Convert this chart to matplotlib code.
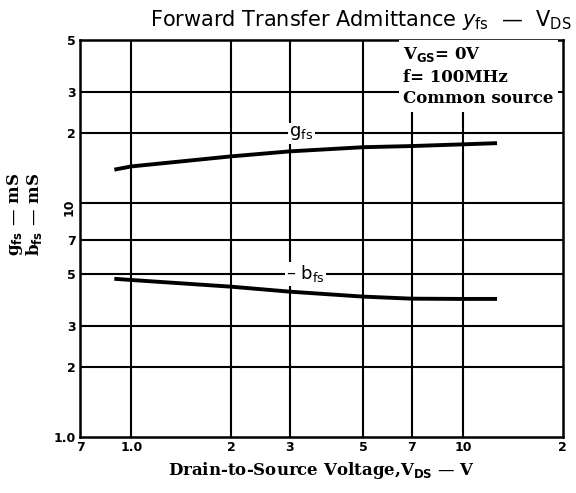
import matplotlib
matplotlib.use("Agg")
import matplotlib.pyplot as plt
from matplotlib.ticker import FixedLocator, NullLocator

# data
vds_g = [0.9, 1.0, 2.0, 3.0, 5.0, 7.0, 10.0, 12.5]
gfs = [14.0, 14.4, 15.9, 16.7, 17.4, 17.6, 17.9, 18.1]
vds_b = [0.9, 1.0, 2.0, 3.0, 5.0, 7.0, 10.0, 12.5]
bfs = [4.75, 4.7, 4.4, 4.19, 3.99, 3.91, 3.9, 3.9]

x_ticks = [0.7, 1, 2, 3, 5, 7, 10, 20]
x_labels = ['7', '1.0', '2', '3', '5', '7', '10', '2']
y_ticks = [1, 2, 3, 5, 7, 10, 20, 30, 50]
y_labels = ['1.0', '2', '3', '5', '7', '10', '2', '3', '5']
x_grid = [1, 2, 3, 5, 7, 10]
y_grid = [2, 3, 5, 7, 10, 20, 30]

serif = 'DejaVu Serif'

fig = plt.figure(figsize=(5.76, 4.93), dpi=100)
ax = fig.add_axes([0.139, 0.1136, 0.838, 0.805])
ax.set_xscale('log')
ax.set_yscale('log')
ax.set_xlim(0.7, 20)
ax.set_ylim(1, 50)

for v in x_grid:
    ax.axvline(v, color='black', lw=1.5, zorder=1)
for v in y_grid:
    ax.axhline(v, color='black', lw=1.5, zorder=1)

ax.plot(vds_g, gfs, color='black', lw=2.8, zorder=3)
ax.plot(vds_b, bfs, color='black', lw=2.8, zorder=3)

ax.text(3.25, 20, 'g$_{\\rm fs}$', fontsize=13, ha='center', va='center',
        bbox=dict(facecolor='white', edgecolor='none', pad=1), zorder=4)
ax.text(3.35, 5.0, '– b$_{\\rm fs}$', fontsize=13, ha='center', va='center',
        bbox=dict(facecolor='white', edgecolor='none', pad=1), zorder=4)

ax.text(6.6, 47.5, 'V$_{\\mathbf{GS}}$= 0V\nf= 100MHz\nCommon source',
        fontsize=12, fontweight='bold', family=serif, ha='left', va='top',
        linespacing=1.35,
        bbox=dict(facecolor='white', edgecolor='none', pad=3), zorder=4)

ax.xaxis.set_major_locator(FixedLocator(x_ticks))
ax.xaxis.set_minor_locator(NullLocator())
ax.set_xticklabels(x_labels, fontsize=9, fontweight='bold')
ax.yaxis.set_major_locator(FixedLocator(y_ticks))
ax.yaxis.set_minor_locator(NullLocator())
ax.set_yticklabels(y_labels, fontsize=9, fontweight='bold')
ax.yaxis.get_ticklabels()[5].set_rotation(90)
ax.tick_params(length=0, pad=3)

for s in ax.spines.values():
    s.set_linewidth(1.8)

ax.set_xlabel('Drain-to-Source Voltage,V$_{\\mathbf{DS}}$ — V', fontsize=12,
              fontweight='bold', family=serif, labelpad=4)
ax.set_ylabel('g$_{\\mathbf{fs}}$ — mS\nb$_{\\mathbf{fs}}$ — mS', fontsize=12,
              fontweight='bold', family=serif, linespacing=0.95)
ax.yaxis.set_label_coords(-0.075, 0.56)

fig.text(150 / 576, 1 - 20 / 493,
         'Forward Transfer Admittance $y_{\\rm fs}$  —  V$_{\\rm DS}$',
         fontsize=15, ha='left', va='center')

fig.savefig('out.png', dpi=100)
